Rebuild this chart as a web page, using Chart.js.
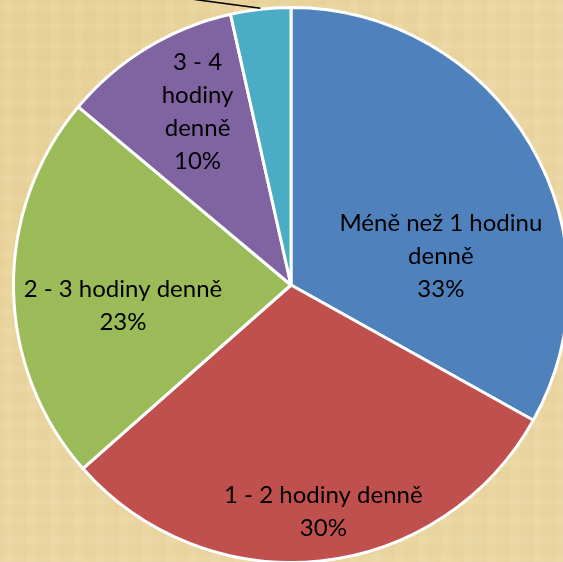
<!DOCTYPE html>
<html>
<head>
<meta charset="utf-8">
<script src="https://cdn.jsdelivr.net/npm/chart.js@4.4.0/dist/chart.umd.min.js"></script>
<style>
    html, body {
        margin: 0;
        padding: 0;
        width: 563px;
        height: 562px;
        overflow: hidden;
    }
    body {
        position: relative;
        background-color: #ead6a2;
        background-image:
            repeating-linear-gradient(90deg, rgba(205, 170, 95, 0.05) 0px, rgba(205, 170, 95, 0.05) 4px, rgba(255, 245, 215, 0.04) 4px, rgba(255, 245, 215, 0.04) 13px, rgba(210, 175, 100, 0.03) 13px, rgba(210, 175, 100, 0.03) 23px),
            repeating-linear-gradient(0deg, rgba(255, 240, 200, 0.05) 0px, rgba(255, 240, 200, 0.05) 7px, rgba(205, 170, 95, 0.03) 7px, rgba(205, 170, 95, 0.03) 19px),
            radial-gradient(circle at 15% 15%, rgba(225, 195, 120, 0.2), rgba(225, 195, 120, 0) 60%);
    }
    #wrap {
        position: absolute;
        left: -9px;
        top: -15px;
        width: 600px;
        height: 600px;
    }
</style>
</head>
<body>
<div id="wrap"><canvas id="pie-chart" width="600" height="600"></canvas></div>
<script>
// Data (share of respondents, %)
const categories = ['Méně než 1 hodinu denně', '1 - 2 hodiny denně', '2 - 3 hodiny denně', '3 - 4 hodiny denně', 'Více než 4 hodiny denně'];
const shares = [33.1, 30.4, 22.6, 10.4, 3.5];
// How each label is broken into lines in the reference
const labelLines = [
    ['Méně než 1 hodinu', 'denně'],
    ['1 - 2 hodiny denně'],
    ['2 - 3 hodiny denně'],
    ['3 - 4', 'hodiny', 'denně'],
    null
];

const sliceColors = ['#4f81bd', '#c0504d', '#9bbb59', '#8064a2', '#4bacc6'];
// label placement: fraction of radius, and angle shift from slice middle (deg)
const labelRadius = [0.55, 0.825, 0.61, 0.71];
const labelShift = [19.5, -2, -6.2, 3];

// Draws the in-slice labels and the leader line for the small slice
const pieLabels = {
    id: 'pieLabels',
    afterDatasetsDraw(chart) {
        const ctx = chart.ctx;
        const arcs = chart.getDatasetMeta(0).data;
        const total = shares.reduce((a, b) => a + b, 0);
        ctx.save();
        ctx.fillStyle = '#000';
        ctx.font = '24px Lato, "Open Sans", sans-serif';
        ctx.textAlign = 'center';
        ctx.textBaseline = 'middle';
        arcs.forEach((arc, i) => {
            const {x, y, startAngle, endAngle, outerRadius} = arc.getProps(['x', 'y', 'startAngle', 'endAngle', 'outerRadius'], true);
            if (labelLines[i]) {
                const a = (startAngle + endAngle) / 2 + labelShift[i] * Math.PI / 180;
                const cx = x + Math.cos(a) * outerRadius * labelRadius[i];
                const cy = y + Math.sin(a) * outerRadius * labelRadius[i];
                const lines = labelLines[i].concat([Math.round(shares[i] / total * 100) + '%']);
                const lh = 33;
                const top = cy - (lines.length - 1) * lh / 2;
                lines.forEach((t, k) => ctx.fillText(t, cx, top + k * lh));
            } else {
                // leader line to the label sitting outside the picture
                const a = (startAngle + endAngle) / 2;
                const px = x + Math.cos(a) * (outerRadius + 1);
                const py = y + Math.sin(a) * (outerRadius + 1);
                ctx.strokeStyle = '#000';
                ctx.lineWidth = 1.5;
                ctx.beginPath();
                ctx.moveTo(px, py);
                ctx.lineTo(px - 75, py - 10);
                ctx.stroke();
            }
        });
        ctx.restore();
    }
};

new Chart(document.getElementById('pie-chart'), {
    type: 'pie',
    data: {
        labels: categories,
        datasets: [{
            data: shares,
            backgroundColor: sliceColors,
            borderColor: '#ffffff',
            borderWidth: 3
        }]
    },
    options: {
        responsive: false,
        animation: false,
        devicePixelRatio: 1,
        layout: {padding: 21},
        plugins: {
            legend: {display: false},
            tooltip: {enabled: false}
        }
    },
    plugins: [pieLabels]
});
</script>
</body>
</html>
